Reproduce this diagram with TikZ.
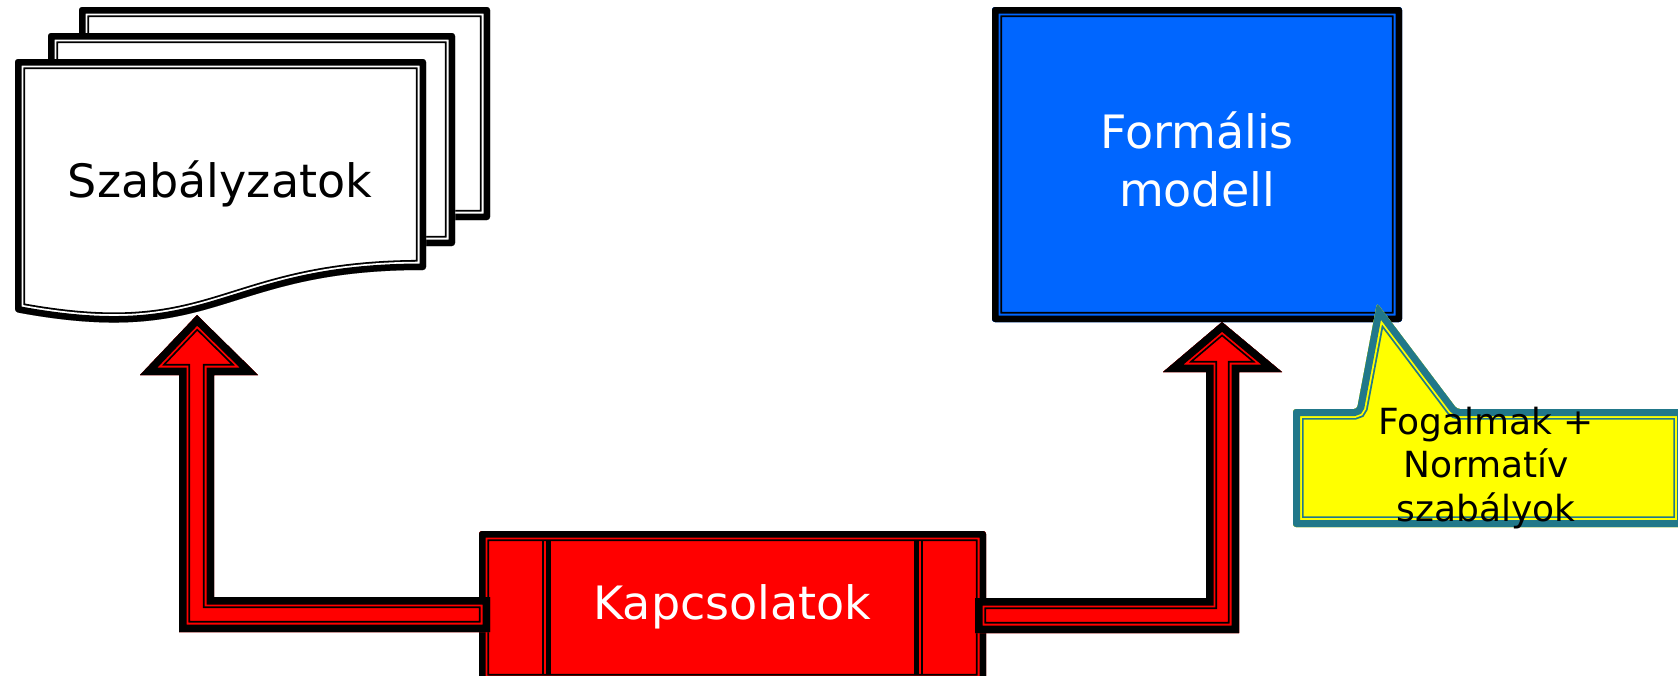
\documentclass[tikz,border=0pt]{standalone}
\usepackage{fontspec}
\setmainfont{DejaVu Sans}
\definecolor{boxblue}{RGB}{0,102,255}
\definecolor{calteal}{RGB}{33,120,138}
\definecolor{calyellow}{RGB}{255,255,0}
\definecolor{arrred}{RGB}{255,0,0}
% compound outline: #1 fill, #2 line colour, #3 outer band, #4 path
\newcommand\cmpd[4]{%
  \begin{scope}
    \clip #4;
    \fill[#1] #4;
    \draw[#2,line width=2*(#3+3.6)] #4;
    \draw[#1,line width=2*(#3+1.8)] #4;
    \draw[#2,line width=2*(#3)] #4;
  \end{scope}}
\tikzset{
  lbl/.style={inner sep=0pt, anchor=base, align=center},
}
\begin{document}
\begin{tikzpicture}[x=1pt,y=-1pt]
\path[use as bounding box] (0,0) rectangle (1678,675);
\clip (0,0) rectangle (1678,675);
% stacked documents
\cmpd{white}{black}{6.5}{[rounded corners=3pt] (79,7) rectangle (490,220)}
\cmpd{white}{black}{6.5}{[rounded corners=3pt] (48,33) rectangle (455,246)}
\cmpd{white}{black}{6.5}{[rounded corners=3pt] (15,59) -- (426,59) -- (426,270) .. controls (220,270) and (220,350) .. (15,312) -- cycle}
\node[lbl, font=\fontsize{46}{58}\selectfont] (szab) at (220,197) {Szabályzatok};
% formal model
\cmpd{boxblue}{black}{6.5}{[rounded corners=3pt] (992,7) rectangle (1402,322)}
\node[lbl, text=white, font=\fontsize{46}{58}\selectfont] (formal) at (1197,148)
  {\begin{tabular}[t]{@{}c@{}}Formális\\modell\end{tabular}};
% callout
\cmpd{calyellow}{calteal}{7}{[rounded corners=3pt] (1293,409) -- (1357,409) -- (1377,303) -- (1457,409) -- (1684,409) -- (1684,527) -- (1293,527) -- cycle}
\node[lbl, font=\fontsize{36}{43.5}\selectfont] (fogalm) at (1486,434)
  {\begin{tabular}[t]{@{}c@{}}Fogalmak +\\Normatív\\szabályok\end{tabular}};
% Kapcsolatok box
\begin{scope}
  \clip[rounded corners=3pt] (479,531) rectangle (986,684);
  \fill[arrred] (479,531) rectangle (986,684);
  \draw[black,line width=1.6] (543,531) -- (543,684);
  \draw[black,line width=5] (548.5,531) -- (548.5,684);
  \draw[black,line width=5] (916,531) -- (916,684);
  \draw[black,line width=1.6] (922,531) -- (922,684);
  \draw[black,line width=2*(6.5+3.6)] [rounded corners=3pt] (479,531) rectangle (986,684);
  \draw[arrred,line width=2*(6.5+1.8)] [rounded corners=3pt] (479,531) rectangle (986,684);
  \draw[black,line width=2*6.5] [rounded corners=3pt] (479,531) rectangle (986,684);
\end{scope}
\node[lbl, text=white, font=\fontsize{46}{58}\selectfont] (kapcs) at (732.5,619.5) {Kapcsolatok};
% block arrows
\cmpd{arrred}{black}{7.5}{(197,315) -- (258,375) -- (214,375) -- (214,597) -- (490,597) -- (490,632) -- (179,632) -- (179,375) -- (140,375) -- cycle}
\cmpd{arrred}{black}{7.5}{(1222,322) -- (1282,372) -- (1239,372) -- (1239,633) -- (975,633) -- (975,598) -- (1206,598) -- (1206,372) -- (1163,372) -- cycle}
\end{tikzpicture}
\end{document}
